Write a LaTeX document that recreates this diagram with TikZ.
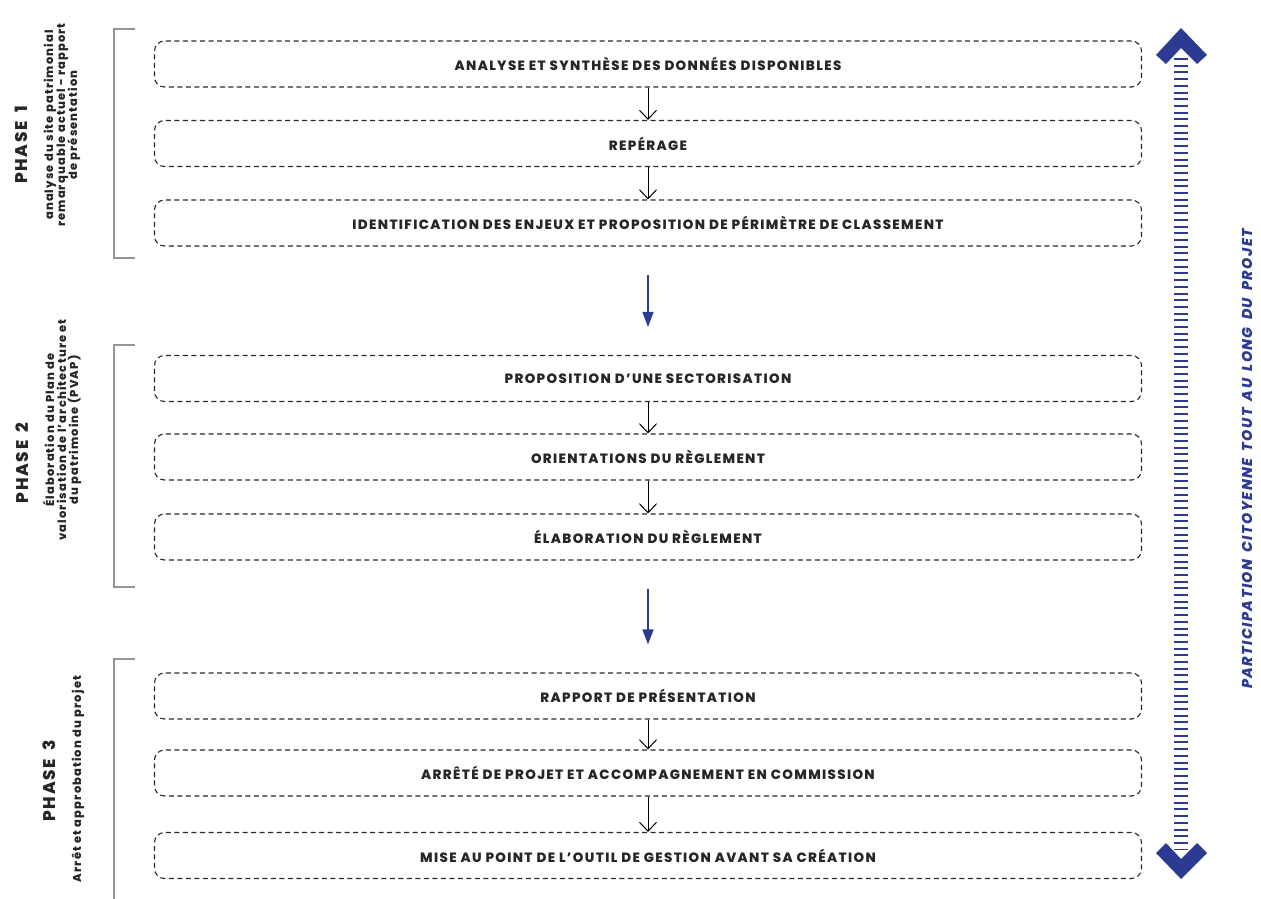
\documentclass[tikz,border=0pt]{standalone}
\usepackage{fontspec}
\setmainfont{Poppins}[LetterSpace=10, BoldFont={* ExtraBold}, BoldItalicFont={* ExtraBold Italic}]
\newfontfamily\widefont{Poppins}[LetterSpace=10, WordSpace=1.7, BoldFont={* ExtraBold}, BoldItalicFont={* ExtraBold Italic}]
\usetikzlibrary{arrows.meta}
\definecolor{pblue}{RGB}{44,58,145}
\definecolor{bgray}{RGB}{150,150,150}
\definecolor{boxline}{RGB}{40,40,40}
\begin{document}
\begin{tikzpicture}[x=1bp,y=-1bp,
  stepbox/.style={draw=boxline, line width=1.1bp, dash pattern=on 5bp off 3.5bp,
    rounded corners=10bp, minimum width=987bp, minimum height=46bp, inner sep=0pt,
    font=\bfseries\fontsize{13.5}{14}\selectfont, text=black!85},
  flow/.style={draw=black, line width=1bp, -{Straight Barb[length=9bp,width=17bp]}},
  phaseflow/.style={draw=pblue, line width=1.5bp, -{Triangle[length=15bp,width=11bp]},
    shorten <=28bp, shorten >=28bp},
  bracket/.style={draw=bgray, line width=2.5bp},
  phasetitle/.style={rotate=90, anchor=base, inner sep=0pt,
    font=\widefont\bfseries\fontsize{17}{17}\selectfont, text=black!85},
  phasesub/.style={rotate=90, anchor=base, inner sep=0pt,
    font=\bfseries\fontsize{11.5}{12}\selectfont, text=black!85}
]
\useasboundingbox (0,0) rectangle (1261,899);

% boxes
\node[stepbox] (a1) at (648,64) {ANALYSE ET SYNTHÈSE DES DONNÉES DISPONIBLES};
\node[stepbox] (a2) at (648,143.5) {REPÉRAGE};
\node[stepbox] (a3) at (648,223) {IDENTIFICATION DES ENJEUX ET PROPOSITION DE PÉRIMÈTRE DE CLASSEMENT};
\node[stepbox] (b1) at (648,378.5) {PROPOSITION D’UNE SECTORISATION};
\node[stepbox] (b2) at (648,457) {ORIENTATIONS DU RÈGLEMENT};
\node[stepbox] (b3) at (648,537) {ÉLABORATION DU RÈGLEMENT};
\node[stepbox] (c1) at (648,696) {RAPPORT DE PRÉSENTATION};
\node[stepbox] (c2) at (648,773) {ARRÊTÉ DE PROJET ET ACCOMPAGNEMENT EN COMMISSION};
\node[stepbox] (c3) at (648,855.5) {MISE AU POINT DE L’OUTIL DE GESTION AVANT SA CRÉATION};

% flow arrows
\draw[flow] (a1) -- (a2);
\draw[flow] (a2) -- (a3);
\draw[flow] (b1) -- (b2);
\draw[flow] (b2) -- (b3);
\draw[flow] (c1) -- (c2);
\draw[flow] (c2) -- (c3);
\draw[phaseflow] (a3) -- (b1);
\draw[phaseflow] (b3) -- (c1);

% brackets
\draw[bracket] (135,29) -- (114,29) -- (114,258) -- (135,258);
\draw[bracket] (135,345) -- (114,345) -- (114,587) -- (135,587);
\draw[bracket] (135,659) -- (114,659) -- (114,899);

% phase labels
\node[phasetitle] (p1t) at (27,145) {PHASE 1};
\node[phasesub] (p1a) at (53,125) {analyse du site patrimonial};
\node[phasesub] (p1b) at (65,125) {remarquable actuel - rapport};
\node[phasesub] (p1c) at (77,125) {de présentation};

\node[phasetitle] (p2t) at (28,463) {PHASE 2};
\node[phasesub] (p2a) at (54,430) {Élaboration du Plan de};
\node[phasesub] (p2b) at (66,430) {valorisation de l'architecture et};
\node[phasesub] (p2c) at (78,430) {du patrimoine (PVAP)};

\node[phasetitle] (p3t) at (55,781) {PHASE 3};
\node[phasesub] (p3a) at (81,779) {Arrêt et approbation du projet};

% participation arrow
\coordinate (ptop) at (1181,58);
\coordinate (pbot) at (1181,850);
\draw[pblue, line width=14bp, dash pattern=on 2bp off 4.7bp] (ptop) -- (pbot);
\fill[pblue] (1181,28) -- (1207,55) -- (1197,64) -- (1181,48) -- (1166,64) -- (1156,55) -- cycle;
\fill[pblue] (1181,879) -- (1207,853) -- (1197,843) -- (1181,859) -- (1166,843) -- (1156,853) -- cycle;
\node[rotate=90, text=pblue, font=\widefont\bfseries\itshape\fontsize{14.3}{15}\selectfont] (part) at (1247,459) {PARTICIPATION CITOYENNE TOUT AU LONG DU PROJET};
\end{tikzpicture}
\end{document}
